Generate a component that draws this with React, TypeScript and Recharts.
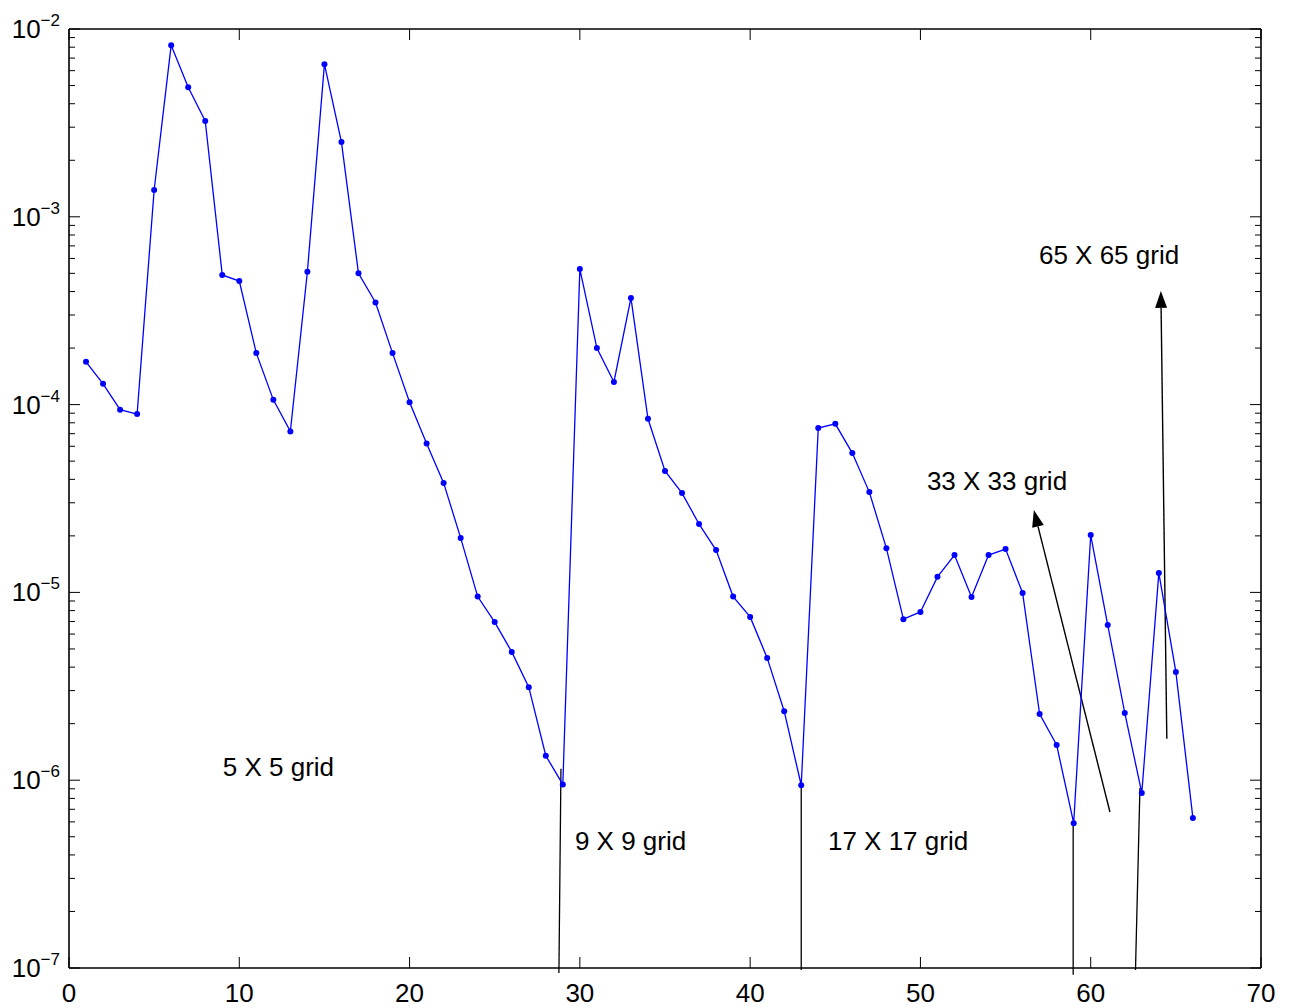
import { LineChart, Line, XAxis, YAxis, ReferenceLine, ReferenceDot } from 'recharts';

// iteration number and residual (log scale)
const ITERATIONS = [
  1, 2, 3, 4, 5, 6, 7, 8, 9, 10, 11, 12, 13, 14, 15, 16, 17, 18, 19, 20, 21, 22,
  23, 24, 25, 26, 27, 28, 29, 30, 31, 32, 33, 34, 35, 36, 37, 38, 39, 40, 41, 42,
  43, 44, 45, 46, 47, 48, 49, 50, 51, 52, 53, 54, 55, 56, 57, 58, 59, 60, 61, 62,
  63, 64, 65, 66,
];
const RESIDUALS = [
  1.69e-4, 1.29e-4, 9.4e-5, 8.9e-5, 1.39e-3, 8.2e-3, 4.9e-3, 3.24e-3, 4.9e-4, 4.55e-4,
  1.88e-4, 1.06e-4, 7.2e-5, 5.1e-4, 6.5e-3, 2.5e-3, 5.0e-4, 3.5e-4, 1.88e-4, 1.03e-4,
  6.2e-5, 3.83e-5, 1.95e-5, 9.5e-6, 6.95e-6, 4.82e-6, 3.13e-6, 1.35e-6, 9.5e-7, 5.27e-4,
  2.0e-4, 1.32e-4, 3.7e-4, 8.4e-5, 4.43e-5, 3.38e-5, 2.31e-5, 1.68e-5, 9.5e-6, 7.4e-6,
  4.48e-6, 2.33e-6, 9.4e-7, 7.5e-5, 7.9e-5, 5.52e-5, 3.42e-5, 1.72e-5, 7.2e-6, 7.87e-6,
  1.21e-5, 1.58e-5, 9.45e-6, 1.58e-5, 1.7e-5, 9.93e-6, 2.25e-6, 1.54e-6, 5.9e-7, 2.02e-5,
  6.7e-6, 2.28e-6, 8.55e-7, 1.27e-5, 3.77e-6, 6.3e-7,
];

const X_TICKS = [0, 10, 20, 30, 40, 50, 60, 70];
const DECADES = [-7, -6, -5, -4, -3, -2];
const MINOR_STEPS = [2, 3, 4, 5, 6, 7, 8, 9];

// annotation text, anchored at baseline-left (data coords)
const GRID_LABELS = [
  { text: '5 X 5 grid', x: 9.03, y: 1.05e-6 },
  { text: '9 X 9 grid', x: 29.71, y: 4.25e-7 },
  { text: '17 X 17 grid', x: 44.57, y: 4.25e-7 },
  { text: '33 X 33 grid', x: 50.38, y: 3.51e-5 },
  { text: '65 X 65 grid', x: 56.96, y: 5.61e-4 },
];

// grid-switch marker lines
const MARK_LINES = [
  [{ x: 28.77, y: 9.4e-8 }, { x: 28.89, y: 1.15e-6 }],
  [{ x: 43.0, y: 9.75e-8 }, { x: 43.0, y: 9.4e-7 }],
  [{ x: 58.97, y: 9.2e-8 }, { x: 58.97, y: 5.9e-7 }],
  [{ x: 62.63, y: 9.75e-8 }, { x: 62.89, y: 9.1e-7 }],
];

const ARROWS = [
  [{ x: 61.13, y: 6.77e-7 }, { x: 56.66, y: 2.75e-5 }],
  [{ x: 64.47, y: 1.66e-6 }, { x: 64.12, y: 4.03e-4 }],
];

const Y_TICKS = DECADES.flatMap((d, i) =>
  i === DECADES.length - 1 ? [Math.pow(10, d)] : [Math.pow(10, d), ...MINOR_STEPS.map((m) => m * Math.pow(10, d))]
);

const data = ITERATIONS.map((x, i) => ({ x, v: RESIDUALS[i] }));

const FONT = '"Liberation Sans", Arial, Helvetica, sans-serif';
const MAJOR = 11;
const MINOR = 6;

const isMajor = (v: number) => Math.abs(Math.log10(v) - Math.round(Math.log10(v))) < 1e-9;

function LeftTick(props: any) {
  const { x, y, payload } = props;
  const major = isMajor(payload.value);
  const exp = Math.round(Math.log10(payload.value));
  return (
    <g>
      <line x1={x} y1={y} x2={x + (major ? MAJOR : MINOR)} y2={y} stroke="#000" strokeWidth={1} />
      {major && (
        <text x={x - 9} y={y + 9} textAnchor="end" fontSize={26} fontFamily={FONT} fill="#000">
          10
          <tspan dy={-12} fontSize={17}>
            {'\u2212' + Math.abs(exp)}
          </tspan>
        </text>
      )}
    </g>
  );
}

function RightTick(props: any) {
  const { x, y, payload } = props;
  const major = isMajor(payload.value);
  return <line x1={x} y1={y} x2={x - (major ? MAJOR : MINOR)} y2={y} stroke="#000" strokeWidth={1} />;
}

function BottomTick(props: any) {
  const { x, y, payload } = props;
  return (
    <g>
      <line x1={x} y1={y} x2={x} y2={y - MAJOR} stroke="#000" strokeWidth={1} />
      <text x={x} y={y + 34} textAnchor="middle" fontSize={26} fontFamily={FONT} fill="#000">
        {payload.value}
      </text>
    </g>
  );
}

function TopTick(props: any) {
  const { x, y } = props;
  return <line x1={x} y1={y} x2={x} y2={y + MAJOR} stroke="#000" strokeWidth={1} />;
}

function ArrowShape(props: any) {
  const { x1, y1, x2, y2 } = props;
  const dx = x2 - x1;
  const dy = y2 - y1;
  const len = Math.sqrt(dx * dx + dy * dy);
  const ux = dx / len;
  const uy = dy / len;
  const head = 17;
  const half = 6;
  const bx = x2 - ux * head;
  const by = y2 - uy * head;
  const pts = [
    [x2, y2],
    [bx - uy * half, by + ux * half],
    [bx + uy * half, by - ux * half],
  ]
    .map((p) => p.join(','))
    .join(' ');
  return (
    <g>
      <line x1={x1} y1={y1} x2={bx} y2={by} stroke="#000" strokeWidth={1.4} />
      <polygon points={pts} fill="#000" />
    </g>
  );
}

export default function App() {
  return (
    <div style={{ position: 'absolute', left: 0, top: 0, background: '#fff' }}>
      <LineChart width={1295} height={1008} data={data} margin={{ top: 0, right: 0, bottom: 0, left: 0 }}>
        <XAxis
          xAxisId="b"
          dataKey="x"
          type="number"
          domain={[0, 70]}
          ticks={X_TICKS}
          interval={0}
          height={40}
          tickSize={0}
          tickMargin={0}
          tickLine={false}
          tick={BottomTick}
          axisLine={{ stroke: '#000', strokeWidth: 1.6 }}
        />
        <XAxis
          xAxisId="t"
          orientation="top"
          dataKey="x"
          type="number"
          domain={[0, 70]}
          ticks={X_TICKS}
          interval={0}
          height={29}
          tickSize={0}
          tickMargin={0}
          tickLine={false}
          tick={TopTick}
          axisLine={{ stroke: '#000', strokeWidth: 1.6 }}
        />
        <YAxis
          yAxisId="l"
          type="number"
          scale="log"
          domain={[1e-7, 1e-2]}
          allowDataOverflow
          ticks={Y_TICKS}
          interval={0}
          width={69}
          tickSize={0}
          tickMargin={0}
          tickLine={false}
          tick={LeftTick}
          axisLine={{ stroke: '#000', strokeWidth: 1.6 }}
        />
        <YAxis
          yAxisId="r"
          orientation="right"
          type="number"
          scale="log"
          domain={[1e-7, 1e-2]}
          allowDataOverflow
          ticks={Y_TICKS}
          interval={0}
          width={34}
          tickSize={0}
          tickMargin={0}
          tickLine={false}
          tick={RightTick}
          axisLine={{ stroke: '#000', strokeWidth: 1.6 }}
        />
        {MARK_LINES.map((seg, i) => (
          <ReferenceLine
            key={'m' + i}
            xAxisId="b"
            yAxisId="l"
            segment={seg}
            ifOverflow="visible"
            stroke="#000"
            strokeWidth={1.3}
          />
        ))}
        {ARROWS.map((seg, i) => (
          <ReferenceLine
            key={'a' + i}
            xAxisId="b"
            yAxisId="l"
            segment={seg}
            ifOverflow="visible"
            stroke="#000"
            shape={ArrowShape}
          />
        ))}
        <Line
          xAxisId="b"
          yAxisId="l"
          type="linear"
          dataKey="v"
          stroke="#0000ff"
          strokeWidth={1.3}
          dot={{ r: 3, fill: '#0000ff', stroke: 'none' }}
          activeDot={false}
          isAnimationActive={false}
        />
        {GRID_LABELS.map((l) => (
          <ReferenceDot
            key={l.text}
            xAxisId="b"
            yAxisId="l"
            x={l.x}
            y={l.y}
            r={0}
            fill="none"
            stroke="none"
            label={(p: any) => (
              <text x={p.viewBox.x} y={p.viewBox.y} fontSize={26} fontFamily={FONT} fill="#000">
                {l.text}
              </text>
            )}
          />
        ))}
      </LineChart>
    </div>
  );
}
